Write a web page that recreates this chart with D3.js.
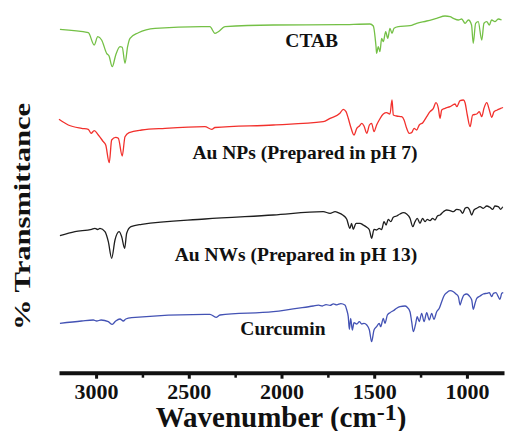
<!DOCTYPE html>
<html>
<head>
<meta charset="utf-8">
<script src="https://cdn.jsdelivr.net/npm/d3@7"></script>
<style>
  html, body { margin: 0; padding: 0; background: #fff; }
  svg { display: block; }
  text { font-family: "Liberation Serif", "Times New Roman", serif; font-weight: bold; fill: #111; }
</style>
</head>
<body>
<svg id="chart" width="507" height="431"></svg>
<script>
// FTIR spectra, stacked with vertical offsets: [wavenumber (cm-1), offset transmittance]
const ctab = [
  [3195, 342.7], [3042, 339.3], [3010, 327], [2991, 335.3], [2970, 332], [2943, 318.7],
  [2930, 316], [2913, 305.3], [2894, 317], [2871, 325.3], [2859, 324.7], [2844, 308.7],
  [2830, 325.3], [2817, 333.7], [2772, 339.3], [2682, 343.7], [2430, 345.3], [2386, 345.3],
  [2359, 338.7], [2341, 340.3], [2305, 345.3], [2044, 347], [1685, 347.3], [1523, 348],
  [1505, 346], [1490, 325], [1487, 318.7], [1478, 325.3], [1469, 320.3], [1460, 333.7],
  [1451, 330.3], [1438, 340.3], [1427, 333.7], [1415, 343.7], [1404, 338.7], [1393, 343.7],
  [1370, 345.3], [1307, 346.3], [1271, 348.7], [1217, 351], [1163, 353.7], [1118, 356],
  [1091, 355.3], [1073, 353.7], [1046, 352], [1028, 353], [1010, 348.7], [992, 352],
  [975, 347], [966, 328.7], [953, 348.7], [939, 350.3], [920, 332], [908, 348.7],
  [893, 350.3], [879, 347], [867, 352], [849, 350.3], [831, 353], [813, 352]
];

const auNPs = [
  [3200, 252.7], [3150, 247], [3078, 243.7], [3042, 242.7], [3027, 238.7], [3010, 241.3],
  [2988, 237], [2961, 230.3], [2948, 227], [2929, 209.3], [2916, 232], [2894, 234.7],
  [2880, 233.7], [2859, 216], [2844, 235.3], [2822, 239.3], [2754, 242], [2628, 243.7],
  [2413, 245.3], [2376, 242.7], [2359, 244.5], [2044, 247], [1775, 250.3], [1738, 253.7],
  [1685, 258.7], [1667, 262.7], [1652, 260.3], [1640, 253.7], [1627, 245.3], [1609, 237],
  [1594, 243.7], [1580, 246], [1567, 248.7], [1555, 246], [1540, 238.7], [1526, 247],
  [1514, 248.7], [1501, 240.3], [1487, 247], [1473, 252], [1451, 258], [1433, 259.3],
  [1415, 258], [1404, 272], [1397, 257], [1379, 256], [1352, 255.3], [1339, 252],
  [1325, 243.7], [1311, 238.7], [1298, 239.3], [1285, 243.7], [1271, 242], [1257, 247],
  [1238, 249.3], [1217, 255.3], [1199, 260.3], [1181, 263.7], [1167, 269.3], [1154, 263.7],
  [1145, 253.7], [1136, 262], [1118, 263.7], [1091, 265.3], [1064, 268], [1055, 265.3],
  [1037, 271.3], [1019, 272], [1010, 269.3], [998, 257], [983, 245.3], [969, 257],
  [947, 258], [933, 260.3], [920, 255.3], [908, 263.7], [893, 269.3], [879, 262],
  [866, 254.7], [854, 260.3], [836, 262], [818, 263.7], [805, 264.5]
];

const auNWs = [
  [3195, 136.3], [3114, 140.3], [3024, 142.7], [3006, 143.7], [2992, 142.5], [2979, 143.7],
  [2952, 140.3], [2934, 130.3], [2916, 113.7], [2898, 132], [2876, 140.3], [2862, 135.3],
  [2846, 123.7], [2835, 138.7], [2812, 145.3], [2754, 147.7], [2413, 153], [2044, 157],
  [1775, 160.3], [1738, 158.7], [1711, 160.3], [1694, 159.3], [1670, 157], [1648, 152.7],
  [1631, 143.7], [1622, 148.7], [1613, 142.7], [1598, 148.7], [1577, 148.7], [1559, 147],
  [1540, 144.7], [1526, 142], [1514, 133.7], [1501, 142.7], [1487, 142], [1473, 143.7],
  [1460, 142.5], [1447, 150.3], [1436, 147], [1424, 152.7], [1411, 150.3], [1397, 154.7],
  [1379, 156], [1361, 158], [1343, 159.3], [1325, 158], [1307, 153.7], [1292, 145.3],
  [1280, 150.3], [1268, 153.7], [1253, 148.7], [1239, 153.7], [1226, 150.3], [1214, 152.7],
  [1199, 151.3], [1185, 153.7], [1172, 152], [1159, 156], [1145, 157], [1127, 160.3],
  [1109, 162], [1091, 161.3], [1073, 160.3], [1055, 162.7], [1037, 162], [1023, 158.7],
  [1010, 163.7], [998, 164.7], [987, 162.7], [974, 157], [962, 162], [947, 163.7],
  [929, 165.3], [912, 163.7], [893, 166], [876, 164.7], [861, 162.7], [849, 166],
  [831, 165.3], [818, 162.7], [807, 165.3]
];

const curcumin = [
  [3195, 48.7], [3078, 51], [3015, 52], [2997, 51], [2973, 52], [2934, 50.3],
  [2913, 47.7], [2894, 51], [2871, 53], [2853, 51], [2840, 53], [2808, 54.3],
  [2413, 57.7], [2386, 57.7], [2353, 54.7], [2332, 57], [2044, 60.3], [1829, 66],
  [1800, 66.8], [1780, 66], [1760, 67.4], [1738, 66.6], [1720, 68.2], [1702, 67.2],
  [1680, 68.4], [1658, 67], [1648, 62], [1640, 55.3], [1634, 42.7], [1627, 53.7],
  [1618, 42], [1609, 49.3], [1594, 48], [1580, 50.3], [1567, 48], [1555, 48.7],
  [1540, 47], [1526, 42], [1514, 30.3], [1501, 42], [1487, 45.3], [1473, 48.7],
  [1465, 45.3], [1451, 53.7], [1442, 48.7], [1429, 57], [1415, 59.3], [1397, 61.3],
  [1379, 63.7], [1361, 65.3], [1334, 66], [1322, 64.7], [1307, 60.3], [1298, 50.3],
  [1289, 40.3], [1276, 48.7], [1268, 55.3], [1257, 50.3], [1244, 58.7], [1231, 50.3],
  [1217, 59.3], [1203, 52], [1190, 58.7], [1178, 52.7], [1163, 60.3], [1149, 63.7],
  [1136, 70.3], [1124, 76], [1109, 79.3], [1091, 81.3], [1073, 80.3], [1059, 78],
  [1046, 75.3], [1037, 67], [1028, 72], [1016, 77], [1001, 78], [987, 76],
  [974, 72], [966, 62.7], [956, 68.7], [947, 73.7], [929, 76], [912, 78],
  [893, 78.7], [879, 79.3], [866, 75.3], [857, 78.7], [843, 79.3], [831, 75.3],
  [822, 72.7], [812, 78.7], [804, 79.3]
];

const seriesNames = ["CTAB", "Au NPs (Prepared in pH 7)", "Au NWs (Prepared in pH 13)", "Curcumin"];
const seriesColors = ["#74c046", "#f2302c", "#1e1e1e", "#4352b4"];
// label anchor: [wavenumber at centre, offset transmittance at baseline]
const labelPos = [[1837, 325.3], [1873, 212.7], [1922, 111.3], [1992, 37]];

const majorTicks = [3000, 2500, 2000, 1500, 1000];
const minorTicks = [2750, 2250, 1750, 1250];

const allSeries = [ctab, auNPs, auNWs, curcumin];

const svg = d3.select("#chart");
const x = d3.scaleLinear().domain([3200, 800]).range([59, 504]);
const y = d3.scaleLinear().domain([0, 372]).range([372, 0]);

const line = d3.line()
  .x(d => x(d[0]))
  .y(d => y(d[1]))
  .curve(d3.curveMonotoneX);

allSeries.forEach((s, i) => {
  svg.append("path")
    .datum(s)
    .attr("d", line)
    .attr("fill", "none")
    .attr("stroke", seriesColors[i])
    .attr("stroke-width", 1.3)
    .attr("stroke-linejoin", "round");
});

svg.selectAll("text.series-label")
  .data(seriesNames)
  .join("text")
  .attr("class", "series-label")
  .attr("x", (d, i) => x(labelPos[i][0]))
  .attr("y", (d, i) => y(labelPos[i][1]))
  .attr("text-anchor", "middle")
  .attr("font-size", 19.5)
  .text(d => d);

// x axis
const axisY = 372.7;
const gMinor = svg.append("g").attr("transform", `translate(0,${axisY})`)
  .call(d3.axisBottom(x).tickValues(minorTicks).tickSize(5).tickSizeOuter(0).tickFormat(""));
gMinor.select(".domain").remove();
gMinor.selectAll(".tick line").attr("stroke", "#111").attr("stroke-width", 2.5);

const gAxis = svg.append("g").attr("transform", `translate(0,${axisY})`)
  .call(d3.axisBottom(x).tickValues(majorTicks).tickSize(6).tickSizeOuter(0).tickFormat(d3.format("d")));
gAxis.select(".domain").attr("stroke", "#111").attr("stroke-width", 4);
gAxis.selectAll(".tick line").attr("stroke", "#111").attr("stroke-width", 3);
gAxis.selectAll(".tick text")
  .attr("y", 26.6)
  .attr("dy", 0)
  .attr("font-size", 22)
  .attr("font-family", "'Liberation Serif', 'Times New Roman', serif")
  .attr("font-weight", "bold")
  .attr("fill", "#111");

// axis titles
const xTitle = svg.append("text")
  .attr("x", 281)
  .attr("y", 427)
  .attr("text-anchor", "middle")
  .attr("font-size", 29);
xTitle.append("tspan").text("Wavenumber (cm");
xTitle.append("tspan").attr("font-size", 24).attr("dy", -7).text("-1");
xTitle.append("tspan").attr("dy", 7).text(")");

svg.append("text")
  .attr("transform", "translate(29.5,216.5) rotate(-90)")
  .attr("text-anchor", "middle")
  .attr("font-size", 24)
  .attr("textLength", 227)
  .attr("lengthAdjust", "spacingAndGlyphs")
  .text("% Transmittance");
</script>
</body>
</html>
